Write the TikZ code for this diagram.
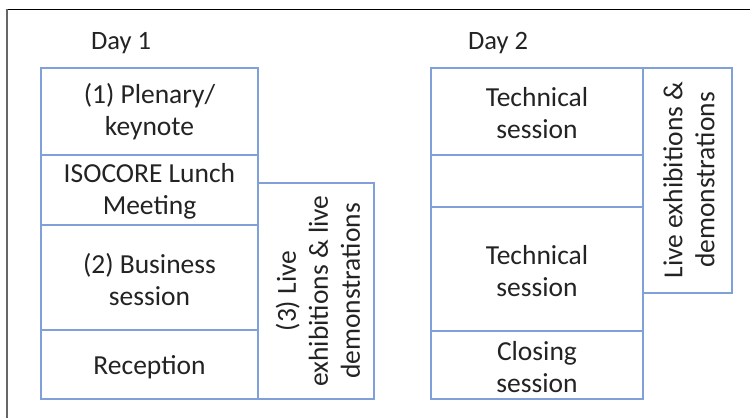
\documentclass[tikz,border=0pt]{standalone}
\usepackage{fontspec}
\setmainfont{Carlito}
\definecolor{boxblue}{RGB}{128,160,218}
\definecolor{txt}{RGB}{35,35,35}
\begin{document}
\begin{tikzpicture}[x=1pt,y=-1pt,
  cell/.style={draw=boxblue,line width=1.8pt,text=txt},
  lbl/.style={text=txt,font=\fontsize{27.5}{32}\selectfont,align=center,inner sep=0pt},
  daylbl/.style={text=txt,font=\fontsize{26.5}{30}\selectfont,inner sep=0pt}]
\useasboundingbox (0,0) rectangle (750,418);
% outer frame
\draw[black,line width=1pt] (8,9) -- (750,9);
\draw[gray!80!black,line width=2pt] (7,9) -- (7,418);
% Day 1
\node[daylbl] (d1) at (121,43) {Day 1};
\draw[cell] (41,68) rectangle (258,155);
\draw[cell] (41,155) rectangle (258,225);
\draw[cell] (41,225) rectangle (258,330);
\draw[cell] (41,330) rectangle (258,399);
\draw[cell] (258,183) rectangle (374,399);
\node[lbl] (p1) at (149.5,112) {(1) Plenary/\\keynote};
\node[lbl] (p2) at (149.5,191) {ISOCORE Lunch\\Meeting};
\node[lbl] (p3) at (149.5,280) {(2) Business\\session};
\node[lbl] (p4) at (149.5,367) {Reception};
\node[lbl,rotate=90] (p5) at (318,291) {(3) Live\\exhibitions \& live\\demonstrations};
% Day 2
\node[daylbl] (d2) at (498,43) {Day 2};
\draw[cell] (431,68) rectangle (643,155);
\draw[cell] (431,155) rectangle (643,207);
\draw[cell] (431,207) rectangle (643,331);
\draw[cell] (431,331) rectangle (643,399);
\draw[cell] (643,68) rectangle (732,293);
\node[lbl] (q1) at (537,113) {Technical\\session};
\node[lbl] (q3) at (537,271) {Technical\\session};
\node[lbl] (q4) at (537,367) {Closing\\session};
\node[lbl,rotate=90] (q5) at (689,180) {Live exhibitions \&\\demonstrations};
\end{tikzpicture}
\end{document}
